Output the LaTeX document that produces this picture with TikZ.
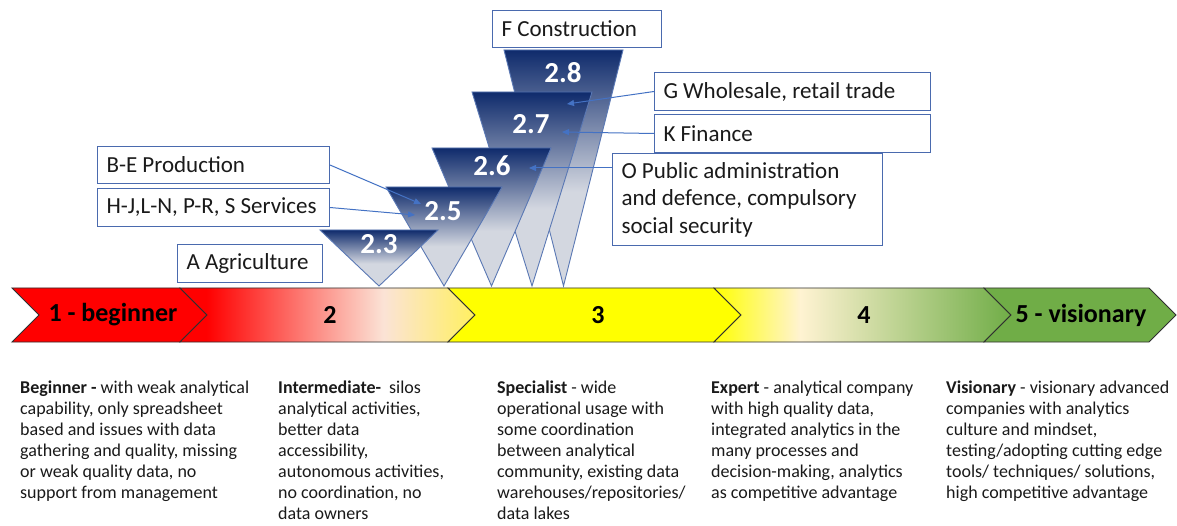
\documentclass[tikz,border=0pt]{standalone}
\usepackage{fontspec}
\setmainfont{Carlito}
\usetikzlibrary{arrows.meta}
\definecolor{triDark}{HTML}{0F2B6C}
\definecolor{triLight}{HTML}{D3D7E0}
\definecolor{triEdge}{HTML}{5A78B4}
\definecolor{cRed}{HTML}{FF0000}
\definecolor{cPeach}{HTML}{FBE3D6}
\definecolor{cLY}{HTML}{FFF060}
\definecolor{cYel}{HTML}{FFFF00}
\definecolor{cCream}{HTML}{FFF3D2}
\definecolor{cGreen}{HTML}{70AD47}
\definecolor{boxBlue}{HTML}{4A6AAE}
\definecolor{arrBlue}{HTML}{4472C4}
\definecolor{txt}{HTML}{1A1A1A}
\definecolor{chevEdge}{HTML}{303030}
\pgfdeclareverticalshading{trishade}{100bp}{color(0bp)=(triLight); color(25bp)=(triLight); color(45bp)=(triLight); color(75bp)=(triDark); color(100bp)=(triDark)}
\pgfdeclarehorizontalshading{chevtwo}{100bp}{color(0bp)=(cRed); color(25bp)=(cRed); color(29.5bp)=(cRed); color(59.5bp)=(cPeach); color(75bp)=(cLY); color(100bp)=(cLY)}
\pgfdeclarehorizontalshading{chevfour}{100bp}{color(0bp)=(cYel); color(25bp)=(cYel); color(39.5bp)=(cCream); color(75bp)=(cGreen); color(100bp)=(cGreen)}
\begin{document}
\begin{tikzpicture}[x=1pt,y=-1pt,
  chev/.style={draw=chevEdge, line width=0.9pt},
  tri/.style={shade, shading=trishade, shading angle=0, draw=triEdge, line width=0.9pt},
  num/.style={text=white, font=\bfseries\fontsize{29}{31}\selectfont, inner sep=0pt},
  lbl/.style={draw=boxBlue, line width=1pt, fill=white, anchor=north west, inner xsep=9pt, inner ysep=0pt, font=\fontsize{23}{27.5}\selectfont, text=txt},
  chevlbl/.style={font=\bfseries\fontsize{26}{30}\selectfont, text=black, inner sep=0pt},
  desc/.style={anchor=north west, inner sep=0pt, align=left, font=\fontsize{18}{21}\selectfont, text=txt},
  conn/.style={draw=arrBlue, line width=1pt, -{Triangle[length=7pt,width=6pt]}}]
\fill[white] (0,0) rectangle (1177,526);
\useasboundingbox (0,0) rectangle (1177,526);
% chevrons
\path[chev, fill=cRed] (12,288) -- (180,288) -- (207,315) -- (180,342) -- (12,342) -- (39,315) -- cycle;
\path[chev, shade, shading=chevtwo, shading angle=0] (180,288) -- (448,288) -- (475,315) -- (448,342) -- (180,342) -- (207,315) -- cycle;
\path[chev, fill=cYel] (448,288) -- (714,288) -- (741,315) -- (714,342) -- (448,342) -- (475,315) -- cycle;
\path[chev, shade, shading=chevfour, shading angle=0] (714,288) -- (984,288) -- (1011,315) -- (984,342) -- (714,342) -- (741,315) -- cycle;
\path[chev, fill=cGreen] (984,288) -- (1149,288) -- (1176,315) -- (1149,342) -- (984,342) -- (1011,315) -- cycle;
\node[chevlbl] (c1) at (113,315) {1 - beginner};
\node[chevlbl] (c2) at (330,315) {2};
\node[chevlbl] (c3) at (598,315) {3};
\node[chevlbl] (c4) at (864,315) {4};
\node[chevlbl] (c5) at (1081,315) {5 - visionary};
% triangles
\path[tri] (504,50) -- (623,50) -- (563.5,286) -- cycle;
\path[tri] (472,92) -- (592,92) -- (532,286) -- cycle;
\path[tri] (432,148) -- (551,148) -- (491.5,286) -- cycle;
\path[tri] (386,187) -- (502,187) -- (444,286) -- cycle;
\path[tri] (320,230) -- (438,230) -- (379,286) -- cycle;
\node[num] (n28) at (563,72.5) {2.8};
\node[num] (n27) at (531,124) {2.7};
\node[num] (n26) at (492,165.5) {2.6};
\node[num] (n25) at (443,211) {2.5};
\node[num] (n23) at (379,244) {2.3};
% arrow targets
\coordinate (tBE) at (421,204);
\coordinate (tHJ) at (415,215);
\coordinate (tG) at (567,104);
\coordinate (tK) at (562,132);
\coordinate (tO) at (529,168);
% label boxes
\node[lbl, minimum width=169pt, minimum height=37pt] (fc) at (492,10) {\makebox[151pt][l]{F Construction}};
\node[lbl, minimum width=276pt, minimum height=38pt] (gw) at (654,72) {\makebox[258pt][l]{G Wholesale, retail trade}};
\node[lbl, minimum width=276pt, minimum height=38pt] (kf) at (654,114) {\makebox[258pt][l]{K Finance}};
\node[lbl, minimum width=270pt, minimum height=92pt, align=left] (op) at (612,153) {\makebox[252pt][l]{O Public administration}\\\makebox[252pt][l]{and defence, compulsory}\\\makebox[252pt][l]{social security}};
\node[lbl, minimum width=232pt, minimum height=37pt] (be) at (97,146) {\makebox[214pt][l]{B-E Production}};
\node[lbl, minimum width=232pt, minimum height=38pt] (hj) at (97,188) {\makebox[214pt][l]{H-J,L-N, P-R, S Services}};
\node[lbl, minimum width=145pt, minimum height=38pt] (ag) at (177,244) {\makebox[127pt][l]{A Agriculture}};
% connectors
\draw[conn] (be.east) -- (tBE);
\draw[conn] (hj.east) -- (tHJ);
\draw[conn] (gw.west) -- (tG);
\draw[conn] (kf.west) -- (tK);
\draw[conn] ([yshift=-15pt]op.north west) -- (tO);
% descriptions
\node[desc] (d1) at (20,381) {\textbf{Beginner -} with weak analytical\\capability, only spreadsheet\\based and issues with data\\gathering and quality, missing\\or weak quality data, no\\support from management};
\node[desc] (d2) at (278,381) {\textbf{Intermediate-}\ \ silos\\analytical activities,\\better data\\accessibility,\\autonomous activities,\\no coordination, no\\data owners};
\node[desc] (d3) at (497,381) {\textbf{Specialist} - wide\\operational usage with\\some coordination\\between analytical\\community, existing data\\warehouses/repositories/\\data lakes};
\node[desc] (d4) at (711,381) {\textbf{Expert} - analytical company\\with high quality data,\\integrated analytics in the\\many processes and\\decision-making, analytics\\as competitive advantage};
\node[desc] (d5) at (946,381) {\textbf{Visionary} - visionary advanced\\companies with analytics\\culture and mindset,\\testing/adopting cutting edge\\tools/ techniques/ solutions,\\high competitive advantage};
\end{tikzpicture}
\end{document}
